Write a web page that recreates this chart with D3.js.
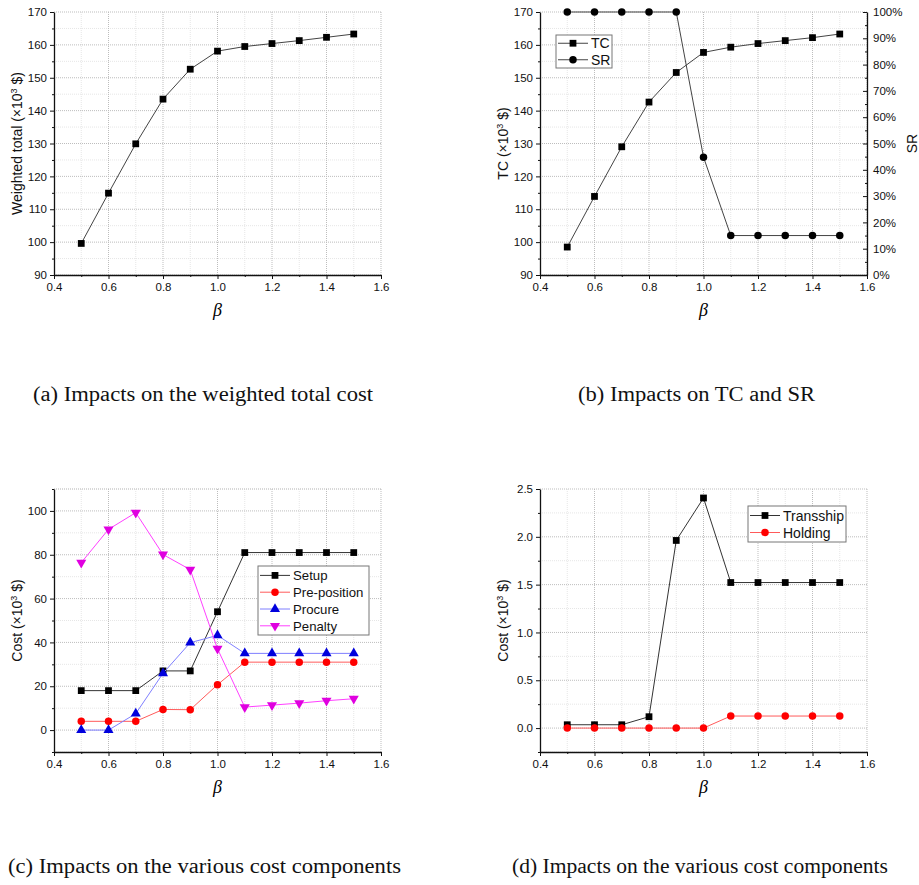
<!DOCTYPE html>
<html>
<head>
<meta charset="utf-8">
<script src="https://cdn.jsdelivr.net/npm/d3@7"></script>
<style>
  body { margin: 0; background: #fff; }
  svg { display: block; }
  .tick text { font-family: "Liberation Sans", Arial, sans-serif; font-size: 11.5px; fill: #111; }
</style>
</head>
<body>
<svg id="chart" width="919" height="885"></svg>
<script>
// beta values shared by all four panels
const beta = [0.5, 0.6, 0.7, 0.8, 0.9, 1.0, 1.1, 1.2, 1.3, 1.4, 1.5];
const xTicks = [0.4, 0.6, 0.8, 1.0, 1.2, 1.4, 1.6];

// (a) weighted total
const weightedTotal = [99.6, 114.9, 129.9, 143.5, 152.6, 158.1, 159.5, 160.4, 161.3, 162.3, 163.3];

// (b) TC and SR
const tc = [98.5, 113.9, 129.0, 142.6, 151.6, 157.7, 159.3, 160.4, 161.3, 162.2, 163.3];
const sr = [1, 1, 1, 1, 1, 0.448, 0.15, 0.15, 0.15, 0.15, 0.15];

// (c) cost components
const setup = [18, 18, 18, 27, 27, 54, 81, 81, 81, 81, 81];
const preposition = [4, 4, 4, 9.4, 9.3, 20.7, 31, 31, 31, 31, 31];
const procure = [0, 0, 7.5, 25.9, 39.9, 43.2, 35, 35, 35, 35, 35];
const penalty = [76.4, 91.6, 99.2, 80.1, 73.2, 37.1, 10.5, 11.4, 12.3, 13.4, 14.3];

// (d) cost components
const transship = [0.035, 0.035, 0.035, 0.119, 1.962, 2.406, 1.522, 1.522, 1.522, 1.522, 1.522];
const holding = [0, 0, 0, 0, 0, 0, 0.126, 0.126, 0.126, 0.126, 0.126];

const captions = [
  "(a) Impacts on the weighted total cost",
  "(b) Impacts on TC and SR",
  "(c) Impacts on the various cost components",
  "(d) Impacts on the various cost components"
];

const svg = d3.select("#chart");
const sans = '"Liberation Sans", Arial, sans-serif';
const serif = '"Liberation Serif", "Times New Roman", serif';

const symbols = {
  square: d3.symbol().type(d3.symbolSquare).size(46),
  circle: d3.symbol().type(d3.symbolCircle).size(44),
  triangle: d3.symbol().type(d3.symbolTriangle).size(44),
  down: d3.symbol().type(d3.symbolTriangle).size(44)
};

function range(a, b, step) {
  const out = [];
  for (let v = a; v <= b + step / 1000; v += step) out.push(+v.toFixed(6));
  return out;
}

// draws frame, grid, axes and labels for one panel
function drawFrame(p) {
  const g = svg.append("g");
  const x = d3.scaleLinear().domain([0.4, 1.6]).range([p.left, p.right]);
  const y = d3.scaleLinear().domain(p.yDomain).range([p.bottom, p.top]);

  // minor grid
  const xMinor = range(0.5, 1.5, 0.2);
  g.selectAll(".gxm").data(xMinor).join("line")
    .attr("x1", d => x(d)).attr("x2", d => x(d))
    .attr("y1", p.top).attr("y2", p.bottom)
    .attr("stroke", "#e6e6e6").attr("stroke-dasharray", "1,1");
  g.selectAll(".gym").data(p.yMinor).join("line")
    .attr("x1", p.left).attr("x2", p.right)
    .attr("y1", d => y(d)).attr("y2", d => y(d))
    .attr("stroke", "#e6e6e6").attr("stroke-dasharray", "1,1");
  // major grid
  g.selectAll(".gx").data(xTicks.slice(1)).join("line")
    .attr("x1", d => x(d)).attr("x2", d => x(d))
    .attr("y1", p.top).attr("y2", p.bottom)
    .attr("stroke", "#bdbdbd").attr("stroke-dasharray", "1,1");
  g.selectAll(".gy").data(p.yTicks.concat(p.yGridExtra || [])).join("line")
    .attr("x1", p.left).attr("x2", p.right)
    .attr("y1", d => y(d)).attr("y2", d => y(d))
    .attr("stroke", "#bdbdbd").attr("stroke-dasharray", "1,1");

  // axes
  g.append("g").attr("transform", `translate(0,${p.bottom})`)
    .call(d3.axisBottom(x).tickValues(xTicks).tickFormat(d3.format(".1f")).tickSize(4).tickSizeOuter(0).tickPadding(4));
  g.append("g").attr("transform", `translate(0,${p.bottom})`)
    .call(d3.axisBottom(x).tickValues(xMinor).tickFormat("").tickSize(2).tickSizeOuter(0))
    .select(".domain").remove();
  g.append("g").attr("transform", `translate(${p.left},0)`)
    .call(d3.axisLeft(y).tickValues(p.yTicks).tickFormat(p.yFormat).tickSize(4).tickSizeOuter(0).tickPadding(3));
  g.append("g").attr("transform", `translate(${p.left},0)`)
    .call(d3.axisLeft(y).tickValues(p.yMinor).tickFormat("").tickSize(2).tickSizeOuter(0))
    .select(".domain").remove();
  g.selectAll(".domain").attr("stroke", "#111").attr("stroke-width", 1.3);
  g.selectAll(".tick line").attr("stroke", "#111").attr("stroke-width", 1);

  // x title
  g.append("text")
    .attr("x", (p.left + p.right) / 2).attr("y", p.bottom + 41)
    .attr("text-anchor", "middle")
    .style("font-family", serif).style("font-style", "italic").style("font-size", "18px")
    .text("β");

  // y title
  const yt = g.append("text")
    .attr("transform", `translate(${p.left - 32},${(p.top + p.bottom) / 2}) rotate(-90)`)
    .attr("text-anchor", "middle")
    .style("font-family", sans).style("font-size", "14px").attr("fill", "#111");
  yt.append("tspan").text(p.yTitle + " (×10");
  yt.append("tspan").attr("dy", -5).style("font-size", "9px").text("3");
  yt.append("tspan").attr("dy", 5).text(" $)");

  return { g, x, y };
}

function drawSeries(g, x, y, values, s) {
  const line = d3.line().x((d, i) => x(beta[i])).y(d => y(d));
  g.append("path").datum(values)
    .attr("d", line).attr("fill", "none")
    .attr("stroke", s.line).attr("stroke-width", 1);
  g.selectAll(null).data(values).join("path")
    .attr("d", symbols[s.marker])
    .attr("transform", (d, i) => `translate(${x(beta[i])},${y(d)})${s.marker === "down" ? " rotate(180)" : ""}`)
    .attr("fill", s.color);
}

function drawLegend(box, items) {
  const g = svg.append("g");
  g.append("rect")
    .attr("x", box.x).attr("y", box.y).attr("width", box.w).attr("height", box.h)
    .attr("fill", "#fff").attr("stroke", "#777").attr("stroke-width", 1);
  items.forEach((s, i) => {
    const cy = box.y + box.pad + box.row * (i + 0.5);
    g.append("line")
      .attr("x1", box.x + 2).attr("x2", box.x + 32).attr("y1", cy).attr("y2", cy)
      .attr("stroke", s.line).attr("stroke-width", 1);
    g.append("path").attr("d", symbols[s.marker])
      .attr("transform", `translate(${box.x + 17},${cy})${s.marker === "down" ? " rotate(180)" : ""}`)
      .attr("fill", s.color);
    g.append("text")
      .attr("x", box.x + 35).attr("y", cy + 5)
      .style("font-family", sans).style("font-size", box.font || "14px").attr("fill", "#111")
      .text(s.name);
  });
}

// ---- panel (a)
{
  const p = { left: 54, right: 381, top: 12, bottom: 275, yDomain: [90, 170],
    yTicks: range(90, 170, 10), yMinor: range(95, 165, 10), yFormat: d3.format("d"),
    yTitle: "Weighted total" };
  const { g, x, y } = drawFrame(p);
  drawSeries(g, x, y, weightedTotal, { line: "#444", color: "#000", marker: "square" });
}

// ---- panel (b)
{
  const p = { left: 540, right: 867, top: 12, bottom: 275, yDomain: [90, 170],
    yTicks: range(90, 170, 10), yMinor: range(95, 165, 10), yFormat: d3.format("d"),
    yTitle: "TC" };
  const { g, x, y } = drawFrame(p);
  const y2 = d3.scaleLinear().domain([0, 1]).range([p.bottom, p.top]);
  const rAxis = g.append("g").attr("transform", `translate(${p.right},0)`)
    .call(d3.axisRight(y2).tickValues(range(0, 1, 0.1)).tickFormat(d3.format(".0%")).tickSize(-4).tickSizeOuter(0).tickPadding(6));
  g.append("g").attr("transform", `translate(${p.right},0)`)
    .call(d3.axisRight(y2).tickValues(range(0.05, 0.95, 0.1)).tickFormat("").tickSize(-2).tickSizeOuter(0))
    .select(".domain").remove();
  rAxis.select(".domain").attr("stroke", "#111").attr("stroke-width", 1.3);
  g.selectAll(".tick line").attr("stroke", "#111");
  g.append("text")
    .attr("transform", `translate(${917},${(p.top + p.bottom) / 2}) rotate(-90)`)
    .attr("text-anchor", "middle")
    .style("font-family", sans).style("font-size", "14px").attr("fill", "#111")
    .text("SR");
  const tcStyle = { name: "TC", line: "#444", color: "#000", marker: "square" };
  const srStyle = { name: "SR", line: "#444", color: "#000", marker: "circle" };
  drawSeries(g, x, y, tc, tcStyle);
  drawSeries(g, x, y2, sr, srStyle);
  drawLegend({ x: 556, y: 35, w: 56, h: 33, pad: 0, row: 16.5 }, [tcStyle, srStyle]);
}

// ---- panel (c)
{
  const p = { left: 54, right: 381, top: 489, bottom: 752, yDomain: [-10, 110],
    yTicks: range(0, 100, 20), yMinor: range(-10, 110, 20), yFormat: d3.format("d"),
    yGridExtra: [110], yTitle: "Cost" };
  const { g, x, y } = drawFrame(p);
  const styles = [
    { name: "Setup", line: "#333", color: "#000", marker: "square", values: setup },
    { name: "Pre-position", line: "#ff5a5a", color: "#ff0000", marker: "circle", values: preposition },
    { name: "Procure", line: "#7f7fff", color: "#0000dd", marker: "triangle", values: procure },
    { name: "Penalty", line: "#ff40ff", color: "#e000e0", marker: "down", values: penalty }
  ];
  styles.forEach(s => drawSeries(g, x, y, s.values, s));
  drawLegend({ x: 258, y: 566, w: 111, h: 69, pad: 1, row: 16.8, font: "13.2px" }, styles);
}

// ---- panel (d)
{
  const p = { left: 540, right: 867, top: 489, bottom: 752, yDomain: [-0.25, 2.5],
    yTicks: range(0, 2.5, 0.5), yMinor: range(-0.25, 2.25, 0.5), yFormat: d3.format(".1f"),
    yTitle: "Cost" };
  const { g, x, y } = drawFrame(p);
  const styles = [
    { name: "Transship", line: "#333", color: "#000", marker: "square", values: transship },
    { name: "Holding", line: "#ff5a5a", color: "#ff0000", marker: "circle", values: holding }
  ];
  styles.forEach(s => drawSeries(g, x, y, s.values, s));
  drawLegend({ x: 748, y: 506, w: 98, h: 36, pad: 1, row: 17 }, styles);
}

// captions (widths follow the reference typesetting)
const capPos = [[33, 401, 340], [578, 401, 237], [8, 873, 393], [512, 873, 376]];
svg.selectAll(".cap").data(captions).join("text")
  .attr("x", (d, i) => capPos[i][0]).attr("y", (d, i) => capPos[i][1])
  .attr("textLength", (d, i) => capPos[i][2]).attr("lengthAdjust", "spacingAndGlyphs")
  .style("font-family", serif).style("font-size", "20px").attr("fill", "#111")
  .text(d => d);
</script>
</body>
</html>
